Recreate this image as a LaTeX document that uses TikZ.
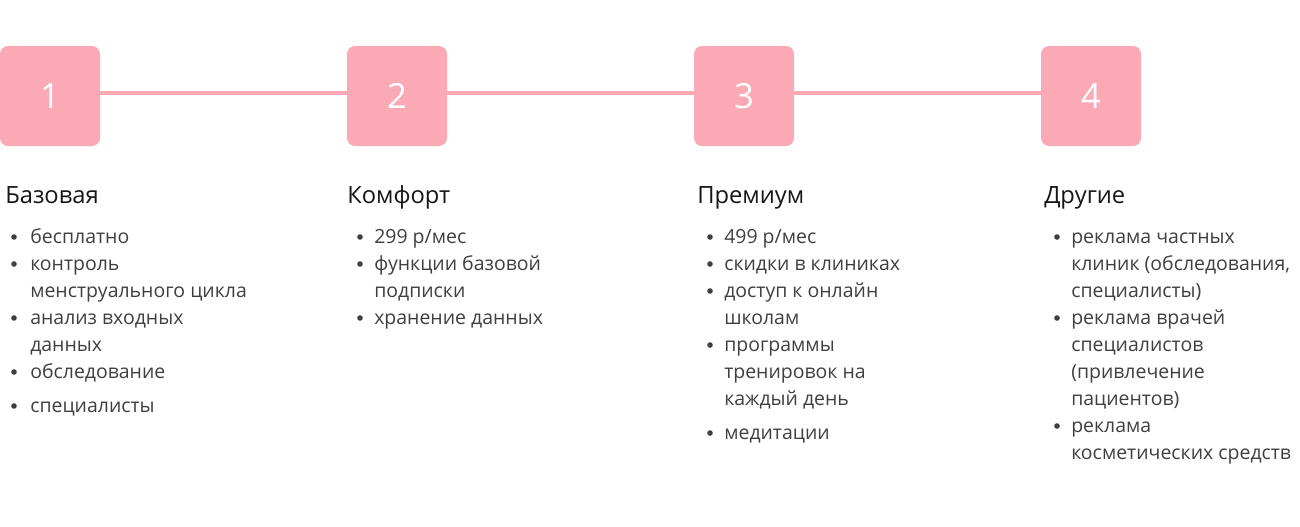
\documentclass[tikz,border=0pt]{standalone}
\usepackage{fontspec}
\setmainfont{Open Sans}
\usetikzlibrary{positioning}
\definecolor{tierPink}{HTML}{FCA9B6}
\definecolor{tierText}{HTML}{3F3F3F}
\definecolor{tierHead}{HTML}{161616}
\tikzset{
  % one pixel of the layout is 0.75pt, y runs downwards
  every picture/.append style = {x=0.75pt, y=-0.75pt},
  stepbox/.style  = {rectangle, rounded corners=6pt, fill=tierPink, minimum size=75pt,
                     inner sep=0pt, text=white, font=\fontsize{26}{26}\selectfont},
  stepline/.style = {tierPink, line width=3.6pt},
  tierhead/.style = {anchor=base west, inner sep=0pt, text=tierHead,
                     font=\fontsize{17.8}{20}\selectfont},
  % items sit on the baseline of their last line (lines are 27px apart)
  item/.style     = {anchor=base west, inner sep=0pt, align=left, text=tierText,
                     font=\fontsize{14.6}{20.25}\selectfont},
  dot/.style      = {circle, fill=tierText, inner sep=0pt, minimum size=4.2pt},
}

\begin{document}
\begin{tikzpicture}
  \useasboundingbox (0,0) rectangle (1300,526);
  % steps
  \node[stepbox] (b1) at (50,96) {1};
  \node[stepbox] (b2) at (397,96) {2};
  \node[stepbox] (b3) at (744,96) {3};
  \node[stepbox] (b4) at (1091,96) {4};
  \draw[stepline] ([yshift=2.2pt]b1.east) -- ([yshift=2.2pt]b2.west);
  \draw[stepline] ([yshift=2.2pt]b2.east) -- ([yshift=2.2pt]b3.west);
  \draw[stepline] ([yshift=2.2pt]b3.east) -- ([yshift=2.2pt]b4.west);
  % tier 1
  \node[tierhead] (h1) at (5,203) {Базовая};
  \node[dot] (d11) at (14,237) {};
  \node[item] (i11) at (30,243) {бесплатно};
  \node[dot] (d12) at (14,264) {};
  \node[item] (i12) at (30,297) {контроль\\менструального цикла};
  \node[dot] (d13) at (14,318) {};
  \node[item] (i13) at (30,351) {анализ входных\\данных};
  \node[dot] (d14) at (14,372) {};
  \node[item] (i14) at (30,378) {обследование};
  \node[dot] (d15) at (14,406) {};
  \node[item] (i15) at (30,412) {специалисты};
  % tier 2
  \node[tierhead] (h2) at (347,203) {Комфорт};
  \node[dot] (d21) at (360,237) {};
  \node[item] (i21) at (374,243) {299 р/мес};
  \node[dot] (d22) at (360,264) {};
  \node[item] (i22) at (374,297) {функции базовой\\подписки};
  \node[dot] (d23) at (360,318) {};
  \node[item] (i23) at (374,324) {хранение данных};
  % tier 3
  \node[tierhead] (h3) at (697,203) {Премиум};
  \node[dot] (d31) at (710,237) {};
  \node[item] (i31) at (724,243) {499 р/мес};
  \node[dot] (d32) at (710,264) {};
  \node[item] (i32) at (724,270) {скидки в клиниках};
  \node[dot] (d33) at (710,291) {};
  \node[item] (i33) at (724,324) {доступ к онлайн\\школам};
  \node[dot] (d34) at (710,345) {};
  \node[item] (i34) at (724,405) {программы\\тренировок на\\каждый день};
  \node[dot] (d35) at (710,433) {};
  \node[item] (i35) at (724,439) {медитации};
  % tier 4
  \node[tierhead] (h4) at (1044,203) {Другие};
  \node[dot] (d41) at (1057,237) {};
  \node[item] (i41) at (1071,297) {реклама частных\\клиник (обследования,\\специалисты)};
  \node[dot] (d42) at (1057,318) {};
  \node[item] (i42) at (1071,405) {реклама врачей\\специалистов\\(привлечение\\пациентов)};
  \node[dot] (d43) at (1057,426) {};
  \node[item] (i43) at (1071,459) {реклама\\косметических средств};
\end{tikzpicture}
\end{document}
